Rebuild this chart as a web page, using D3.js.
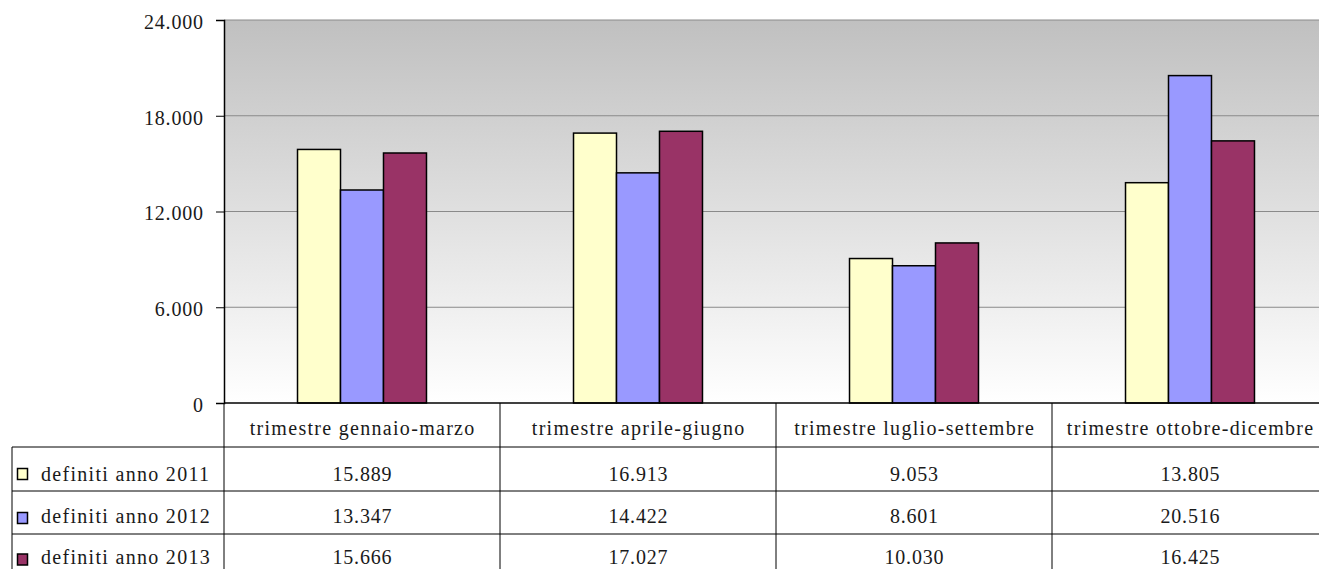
<!DOCTYPE html>
<html><head><meta charset="utf-8">
<script src="https://cdn.jsdelivr.net/npm/d3@7"></script>
<style>html,body{margin:0;padding:0;background:#fff;overflow:hidden}
svg text{font-family:"Liberation Serif","Times New Roman","DejaVu Serif",serif;}</style>
</head><body>
<svg id="c" width="1319" height="569"></svg>
<script>
const categories = ["trimestre gennaio-marzo","trimestre aprile-giugno","trimestre luglio-settembre","trimestre ottobre-dicembre"];
const seriesNames = ["definiti anno 2011","definiti anno 2012","definiti anno 2013"];
const values2011 = [15889,16913,9053,13805];
const values2012 = [13347,14422,8601,20516];
const values2013 = [15666,17027,10030,16425];
const yTicks = [0,6000,12000,18000,24000];
const colors = ["#ffffcc","#9999ff","#993366"];
const series = [values2011, values2012, values2013];

const svg = d3.select("#c");
const FS = "20px";
const LS_W = 1.3, LS_N = 0.8;
const TXT = "#1a1a1a";
const L = 224, R = 1328, T = 20, B = 403;
const loc = d3.formatLocale({decimal:",", thousands:".", grouping:[3], currency:["","€"]});
const fmt = loc.format(",d");

const x0 = d3.scaleBand().domain(categories).range([L,R]).paddingInner(0).paddingOuter(0);
const x1 = d3.scaleBand().domain(seriesNames).range([0,x0.bandwidth()]).paddingInner(0).paddingOuter(1.71);
const y = d3.scaleLinear().domain([0,24000]).range([B,T]);

const defs = svg.append("defs");
const g = defs.append("linearGradient").attr("id","bg").attr("x1",0).attr("y1",0).attr("x2",0).attr("y2",1);
g.append("stop").attr("offset","0%").attr("stop-color","#c0c0c0");
g.append("stop").attr("offset","100%").attr("stop-color","#ffffff");

svg.append("rect").attr("x",L).attr("y",T).attr("width",R-L).attr("height",B-T).attr("fill","url(#bg)");

// gridlines
svg.append("g").selectAll("line").data(yTicks.filter(d=>d>0)).join("line")
  .attr("x1",L).attr("x2",R).attr("y1",d=>y(d)).attr("y2",d=>y(d))
  .attr("stroke","#8a8a8a").attr("stroke-width",1);

// bars
const grp = svg.append("g").selectAll("g").data(categories).join("g")
  .attr("transform",d=>`translate(${x0(d)},0)`);
grp.selectAll("rect").data((d,i)=>seriesNames.map((s,j)=>({s,v:series[j][i],c:colors[j]}))).join("rect")
  .attr("x",d=>x1(d.s)).attr("width",x1.bandwidth())
  .attr("y",d=>y(d.v)).attr("height",d=>B-y(d.v))
  .attr("fill",d=>d.c).attr("stroke","#000").attr("stroke-width",1.5);

// y axis
const ax = svg.append("g").attr("transform",`translate(${L},0)`)
  .call(d3.axisLeft(y).tickValues(yTicks).tickFormat(d=>d===0?"0":fmt(d)).tickSize(8).tickPadding(13));
ax.attr("font-family",null).attr("font-size",null);
ax.select(".domain").attr("stroke","#000").attr("stroke-width",1.5);
ax.selectAll(".tick line").attr("stroke","#000");
ax.selectAll("text").attr("font-size",FS).attr("fill",TXT).attr("dy","0.42em")
  .attr("letter-spacing",LS_N).attr("dx",LS_N);

// table
const rowH = [403,447,491,534,578];
const tbl = svg.append("g").attr("stroke","#000").attr("stroke-width",1);
tbl.append("line").attr("x1",L).attr("x2",R).attr("y1",B).attr("y2",B).attr("stroke-width",1.5);
[447,491,534,578].forEach(yy=>tbl.append("line").attr("x1",12).attr("x2",R).attr("y1",yy).attr("y2",yy));
categories.forEach(c=>tbl.append("line").attr("x1",x0(c)).attr("x2",x0(c)).attr("y1",B).attr("y2",578));
tbl.append("line").attr("x1",12).attr("x2",12).attr("y1",447).attr("y2",578);

// header text
svg.append("g").selectAll("text").data(categories).join("text")
  .attr("x",d=>x0(d)+x0.bandwidth()/2+LS_W/2).attr("y",435)
  .attr("text-anchor","middle").attr("font-size",FS).attr("fill",TXT)
  .attr("letter-spacing",LS_W)
  .text(d=>d);

// rows
const baseOff = [34,32,30];
const boxOff = [21.5,21.5,20];
seriesNames.forEach((s,j)=>{
  const top = rowH[j+1];
  svg.append("rect").attr("x",17.5).attr("y",top+boxOff[j]).attr("width",10).attr("height",11)
    .attr("fill",colors[j]).attr("stroke","#000").attr("stroke-width",1.5);
  svg.append("text").attr("x",41).attr("y",top+baseOff[j]).attr("font-size",FS).attr("fill",TXT)
    .attr("letter-spacing",LS_W).text(s);
  svg.append("g").selectAll("text").data(categories).join("text")
    .attr("x",d=>x0(d)+x0.bandwidth()/2+LS_N/2).attr("y",top+baseOff[j]).attr("text-anchor","middle")
    .attr("font-size",FS).attr("fill",TXT).attr("letter-spacing",LS_N)
    .text((d,i)=>fmt(series[j][i]));
});
</script>
</body></html>
